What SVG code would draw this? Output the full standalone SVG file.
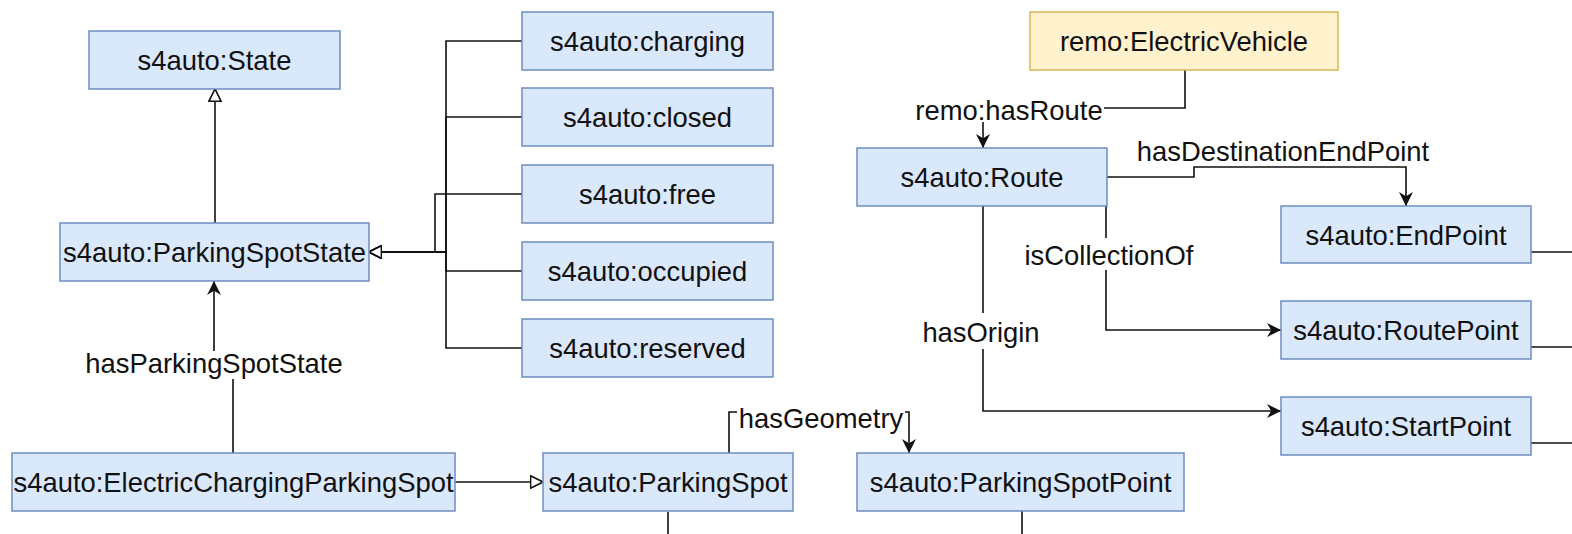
<svg xmlns="http://www.w3.org/2000/svg" width="1572" height="534" viewBox="0 0 1572 534">
<style>
.n rect{fill:#dae8fc;stroke:#6c8ebf;stroke-width:1.5}
.y rect{fill:#fff2cc;stroke:#d6b656;stroke-width:1.5}
text{font-family:"Liberation Sans",Arial,Helvetica,sans-serif;font-size:27.4px;fill:#111;text-anchor:middle}
.c path{fill:none;stroke:#111;stroke-width:1.6}
.lb{fill:#fff;stroke:none}
</style>
<defs>
<marker id="tri" viewBox="0 0 10 10" refX="9.5" refY="5" markerWidth="14" markerHeight="14" markerUnits="userSpaceOnUse" orient="auto">
<path d="M0.6,0.6 L9.5,5 L0.6,9.4 Z" fill="#fff" stroke="#111" stroke-width="1.2"/>
</marker>
<marker id="arr" viewBox="0 0 10 10" refX="10" refY="5" markerWidth="14" markerHeight="14" markerUnits="userSpaceOnUse" orient="auto">
<path d="M0,0 L10,5 L0,10 L3,5 Z" fill="#111"/>
</marker>
</defs>

<g id="connectors" class="c">
<path d="M215,223 L215,89" marker-end="url(#tri)"/>
<path d="M522,41 L446,41 L446,252 L369,252" marker-end="url(#tri)"/>
<path d="M522,117 L446,117 L446,252 L369,252" marker-end="url(#tri)"/>
<path d="M522,194 L435,194 L435,252 L369,252" marker-end="url(#tri)"/>
<path d="M522,271 L446,271 L446,252 L369,252" marker-end="url(#tri)"/>
<path d="M522,348 L446,348 L446,252 L369,252" marker-end="url(#tri)"/>
<path d="M233,453 L233,365 L214,365 L214,281" marker-end="url(#arr)"/>
<path d="M455,482 L543,482" marker-end="url(#tri)"/>
<path d="M729,453 L729,412 L909,412 L909,453" marker-end="url(#arr)"/>
<path d="M668,512 L668,534"/>
<path d="M1022,511 L1022,534"/>
<path d="M1185,70 L1185,108 L983,108 L983,148" marker-end="url(#arr)"/>
<path d="M1107,177 L1194,177 L1194,167 L1406,167 L1406,206" marker-end="url(#arr)"/>
<path d="M1106,206 L1106,330 L1281,330" marker-end="url(#arr)"/>
<path d="M983,206 L983,411 L1281,411" marker-end="url(#arr)"/>
<path d="M1531,252 L1572,252"/>
<path d="M1531,347 L1572,347"/>
<path d="M1531,443 L1572,443"/>
<g id="labels">
<rect class="lb" x="83" y="351" width="262" height="28"/>
<text x="214" y="373">hasParkingSpotState</text>
<rect class="lb" x="737" y="401" width="168" height="28"/>
<text x="821" y="428">hasGeometry</text>
<rect class="lb" x="914" y="96" width="190" height="26"/>
<text x="1009" y="120">remo:hasRoute</text>
<text x="1283" y="161">hasDestinationEndPoint</text>
<rect class="lb" x="1022" y="238" width="176" height="32"/>
<text x="1109" y="265">isCollectionOf</text>
<rect class="lb" x="919" y="313" width="124" height="36"/>
<text x="981" y="342">hasOrigin</text>
</g>
</g>

<g id="state" class="n"><rect x="89" y="31" width="251" height="58"/><text x="214.5" y="70">s4auto:State</text></g>
<g id="parkingSpotState" class="n"><rect x="60" y="223" width="309" height="58"/><text x="214.5" y="262">s4auto:ParkingSpotState</text></g>
<g id="charging" class="n"><rect x="522" y="12" width="251" height="58"/><text x="647.5" y="51">s4auto:charging</text></g>
<g id="closed" class="n"><rect x="522" y="88" width="251" height="58"/><text x="647.5" y="127">s4auto:closed</text></g>
<g id="free" class="n"><rect x="522" y="165" width="251" height="58"/><text x="647.5" y="204">s4auto:free</text></g>
<g id="occupied" class="n"><rect x="522" y="242" width="251" height="58"/><text x="647.5" y="281">s4auto:occupied</text></g>
<g id="reserved" class="n"><rect x="522" y="319" width="251" height="58"/><text x="647.5" y="358">s4auto:reserved</text></g>
<g id="electricChargingParkingSpot" class="n"><rect x="12" y="453" width="443" height="58"/><text x="233.5" y="492">s4auto:ElectricChargingParkingSpot</text></g>
<g id="parkingSpot" class="n"><rect x="543" y="453" width="250" height="58"/><text x="668" y="492">s4auto:ParkingSpot</text></g>
<g id="parkingSpotPoint" class="n"><rect x="857" y="453" width="327" height="58"/><text x="1020.5" y="492">s4auto:ParkingSpotPoint</text></g>
<g id="electricVehicle" class="y"><rect x="1030" y="12" width="308" height="58"/><text x="1184" y="51">remo:ElectricVehicle</text></g>
<g id="route" class="n"><rect x="857" y="148" width="250" height="58"/><text x="982" y="187">s4auto:Route</text></g>
<g id="endPoint" class="n"><rect x="1281" y="206" width="250" height="57"/><text x="1406" y="244.5">s4auto:EndPoint</text></g>
<g id="routePoint" class="n"><rect x="1281" y="301" width="250" height="58"/><text x="1406" y="340">s4auto:RoutePoint</text></g>
<g id="startPoint" class="n"><rect x="1281" y="397" width="250" height="58"/><text x="1406" y="436">s4auto:StartPoint</text></g>
</svg>
